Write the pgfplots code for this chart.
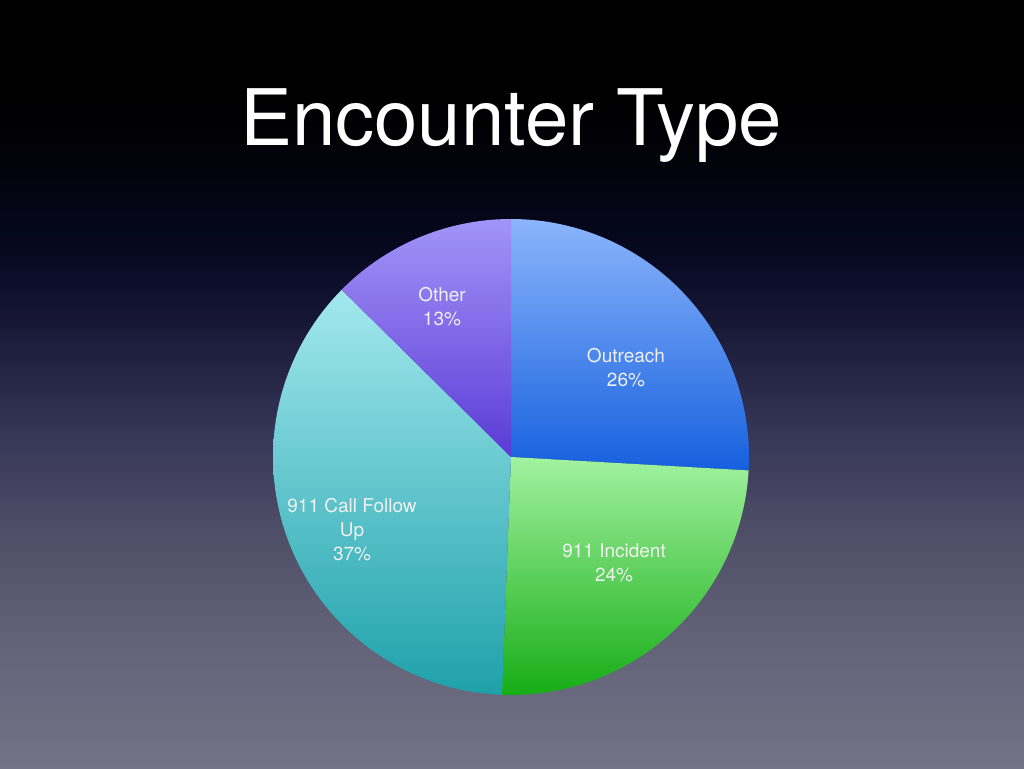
\documentclass[border=0pt]{standalone}
\usepackage{fontspec}
\setmainfont{TeX Gyre Heros}
\usepackage{pgfplots}
\pgfplotsset{compat=1.18}

% slice shares in percent, clockwise from 12 o'clock
\def\vOutreach{25.9}
\def\vIncident{24.7}
\def\vFollowUp{36.8}
\def\vOther{12.6}

\pgfmathsetmacro{\aA}{90}
\pgfmathsetmacro{\aB}{\aA-3.6*\vOutreach}
\pgfmathsetmacro{\aC}{\aB-3.6*\vIncident}
\pgfmathsetmacro{\aD}{\aC-3.6*\vFollowUp}
\pgfmathsetmacro{\aE}{\aD-3.6*\vOther}

\definecolor{bg1}{RGB}{3,3,12}
\definecolor{bg2}{RGB}{6,8,32}
\definecolor{bg3}{RGB}{25,25,56}
\definecolor{bg4}{RGB}{50,50,84}
\definecolor{bg5}{RGB}{76,76,102}
\definecolor{bg6}{RGB}{98,98,120}
\definecolor{bg7}{RGB}{115,115,135}

\definecolor{outTop}{HTML}{8BB5FB}
\definecolor{outBot}{HTML}{1660DE}
\definecolor{incTop}{HTML}{A3F2A0}
\definecolor{incBot}{HTML}{16AD16}
\definecolor{fupTop}{HTML}{A3E8EE}
\definecolor{fupBot}{HTML}{1EA1AA}
\definecolor{othTop}{HTML}{A394F8}
\definecolor{othBot}{HTML}{5A3BD6}

\tikzset{slicelabel/.style={align=center, text=white!94!black, font=\fontsize{19}{24}\selectfont}}

\begin{document}
\begin{tikzpicture}[x=1pt,y=1pt]
% slide background
\fill[black] (0,668) rectangle (1024,768);
\shade[top color=black, bottom color=bg1] (0,598) rectangle (1024,668.5);
\shade[top color=bg1, bottom color=bg2] (0,518) rectangle (1024,598.5);
\shade[top color=bg2, bottom color=bg3] (0,438) rectangle (1024,518.5);
\shade[top color=bg3, bottom color=bg4] (0,348) rectangle (1024,438.5);
\shade[top color=bg4, bottom color=bg5] (0,248) rectangle (1024,348.5);
\shade[top color=bg5, bottom color=bg6] (0,128) rectangle (1024,248.5);
\shade[top color=bg6, bottom color=bg7] (0,0) rectangle (1024,128.5);

\node[anchor=base, text=white, font=\fontsize{78}{82}\selectfont] at (511,622) {Encounter Type};

\begin{axis}[
  at={(511pt,311pt)}, anchor=center,
  scale only axis, width=476pt, height=476pt,
  xmin=-1, xmax=1, ymin=-1, ymax=1,
  hide axis, clip=false,
  every axis plot/.append style={no markers, draw=none, samples=90, variable=\t},
]
\addplot[top color=outTop, bottom color=outBot, domain=\aB:\aA] ({cos(\t)},{sin(\t)}) -- (axis cs:0,0) -- cycle;
\addplot[top color=incTop, bottom color=incBot, domain=\aC:\aB] ({cos(\t)},{sin(\t)}) -- (axis cs:0,0) -- cycle;
\addplot[top color=fupTop, bottom color=fupBot, domain=\aD:\aC] ({cos(\t)},{sin(\t)}) -- (axis cs:0,0) -- cycle;
\addplot[top color=othTop, bottom color=othBot, domain=\aE:\aD] ({cos(\t)},{sin(\t)}) -- (axis cs:0,0) -- cycle;

\node[slicelabel] at (axis cs:0.483,0.374) {Outreach\\26\%};
\node[slicelabel] at (axis cs:0.433,-0.445) {911 Incident\\24\%};
\node[slicelabel] at (axis cs:-0.668,-0.303) {911 Call Follow\\Up\\37\%};
\node[slicelabel] at (axis cs:-0.29,0.632) {Other\\13\%};
\end{axis}
\end{tikzpicture}
\end{document}
